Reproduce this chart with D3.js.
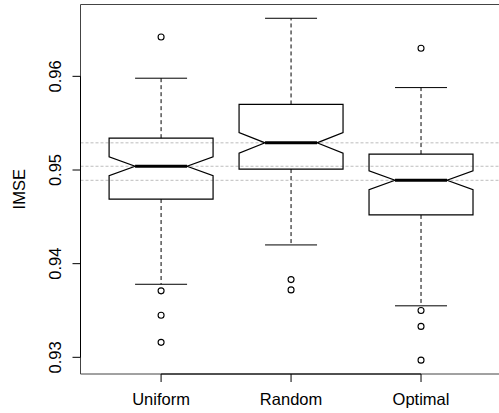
<!DOCTYPE html>
<html><head><meta charset="utf-8">
<script src="https://cdn.jsdelivr.net/npm/d3@7"></script>
<style>body{margin:0;background:#fff;}svg{display:block;font-family:"Liberation Sans",Arial,sans-serif;}</style>
</head><body>
<svg id="c" width="499" height="413"></svg>
<script>
const categories = ["Uniform", "Random", "Optimal"];
const q1 = [0.9469, 0.9501, 0.9452];
const medians = [0.9504, 0.9529, 0.9489];
const q3 = [0.9534, 0.9570, 0.9517];
const notchLo = [0.9494, 0.9518, 0.9479];
const notchHi = [0.9514, 0.9540, 0.9499];
const whiskerLo = [0.9378, 0.9420, 0.9355];
const whiskerHi = [0.9598, 0.9662, 0.9588];
const outliers = [
  [0.9642, 0.9371, 0.9345, 0.9316],
  [0.9383, 0.9372],
  [0.9630, 0.9350, 0.9333, 0.9297]
];
const yTicks = [0.93, 0.94, 0.95, 0.96];
const refLines = medians.slice();

const svg = d3.select("#c");
const L = 80.5, T = 4.5, B = 374;
const x = d3.scaleLinear().domain([0.38, 3.62]).range([L, 501.6]);
const y = d3.scaleLinear().domain([0.92822, 0.96767]).range([B, T]);

// reference lines
svg.append("g").selectAll("line").data(refLines).join("line")
  .attr("x1", L).attr("x2", 499)
  .attr("y1", d => y(d)).attr("y2", d => y(d))
  .attr("stroke", "#bdbdbd").attr("stroke-width", 1).attr("stroke-dasharray", "3,2");

const bw = x(1.4) - x(1); // half box width
const g = svg.append("g").attr("fill", "none").attr("stroke", "#000");
categories.forEach((c, i) => {
  const cx = x(i + 1);
  // whiskers
  g.append("line").attr("x1", cx).attr("x2", cx).attr("y1", y(q3[i])).attr("y2", y(whiskerHi[i]))
    .attr("stroke-dasharray", "4,3");
  g.append("line").attr("x1", cx).attr("x2", cx).attr("y1", y(q1[i])).attr("y2", y(whiskerLo[i]))
    .attr("stroke-dasharray", "4,3");
  [whiskerHi[i], whiskerLo[i]].forEach(v => {
    g.append("line").attr("x1", cx - bw / 2).attr("x2", cx + bw / 2).attr("y1", y(v)).attr("y2", y(v));
  });
  // notched box
  const pts = [
    [cx - bw, y(q1[i])], [cx - bw, y(notchLo[i])], [cx - bw / 2, y(medians[i])],
    [cx - bw, y(notchHi[i])], [cx - bw, y(q3[i])], [cx + bw, y(q3[i])],
    [cx + bw, y(notchHi[i])], [cx + bw / 2, y(medians[i])], [cx + bw, y(notchLo[i])],
    [cx + bw, y(q1[i])]
  ];
  g.append("path").attr("d", d3.line()(pts) + "Z").attr("stroke-width", 1.2);
  g.append("line").attr("x1", cx - bw / 2).attr("x2", cx + bw / 2)
    .attr("y1", y(medians[i])).attr("y2", y(medians[i])).attr("stroke-width", 3);
  g.selectAll(null).data(outliers[i]).join("circle")
    .attr("cx", cx).attr("cy", d => y(d)).attr("r", 3).attr("stroke-width", 1.1);
});

// frame
svg.append("path").attr("d", `M499,${T}H${L}V${B}H499`).attr("fill", "none")
  .attr("stroke", "#444").attr("stroke-width", 1);

// y axis
const ya = svg.append("g");
ya.append("line").attr("x1", L).attr("x2", L).attr("y1", y(0.93)).attr("y2", y(0.96)).attr("stroke", "#000");
yTicks.forEach(t => {
  ya.append("line").attr("x1", L - 8).attr("x2", L).attr("y1", y(t)).attr("y2", y(t)).attr("stroke", "#000");
  ya.append("text").attr("transform", `translate(61,${y(t)}) rotate(-90)`)
    .attr("text-anchor", "middle").attr("font-size", 16.5).attr("fill", "#000").text(d3.format(".2f")(t));
});
svg.append("text").attr("transform", `translate(25,${(T + B) / 2}) rotate(-90)`)
  .attr("text-anchor", "middle").attr("font-size", 16.5).text("IMSE");

// x axis
const xa = svg.append("g");
xa.append("line").attr("x1", x(1)).attr("x2", x(3)).attr("y1", B).attr("y2", B).attr("stroke", "#000");
categories.forEach((c, i) => {
  xa.append("line").attr("x1", x(i + 1)).attr("x2", x(i + 1)).attr("y1", B).attr("y2", B + 8).attr("stroke", "#000");
  xa.append("text").attr("x", x(i + 1)).attr("y", 405).attr("text-anchor", "middle")
    .attr("font-size", 16.5).text(c);
});
</script>
</body></html>
